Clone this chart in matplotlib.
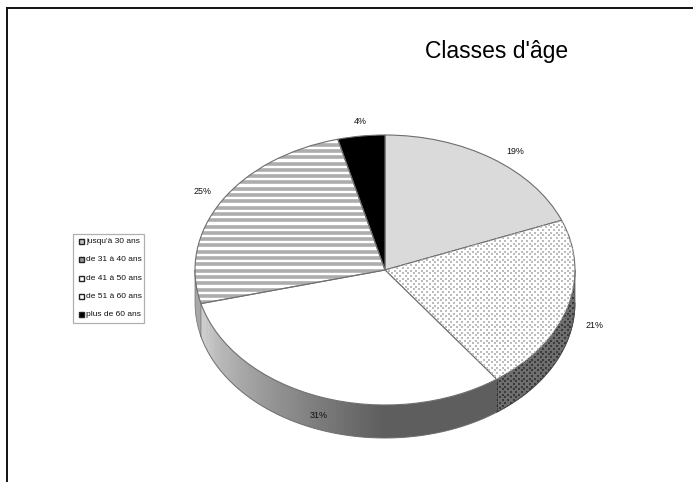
import numpy as np
import matplotlib
matplotlib.use("Agg")
import matplotlib.pyplot as plt
from matplotlib.patches import Polygon, Rectangle

categories = ["jusqu'à 30 ans", "de 31 à 40 ans", "de 41 à 50 ans", "de 51 à 60 ans", "plus de 60 ans"]
values = [19, 21, 31, 25, 4]
labels = ["19%", "21%", "31%", "25%", "4%"]
title = "Classes d'âge"

plt.rcParams['font.family'] = ["Liberation Sans", "DejaVu Sans"]
W, H = 693, 497
fig = plt.figure(figsize=(W / 100, H / 100), dpi=100, facecolor="white")
ax = fig.add_axes([0, 0, 1, 1])

cx, cy, rx, ry, depth = 385, 270, 190, 135, 33
EDGE = '#6e6e6e'
top_colors = ['#dadada', 'white', 'white', 'white', 'black']

wedges, _ = ax.pie(values, startangle=90, counterclock=False, radius=1, center=(0, 0), frame=True)
ax.set_aspect('auto')
ax.set_xlim(-cx / rx, (W - cx) / rx)
ax.set_ylim(-(H - cy) / ry, cy / ry)
ax.axis('off')
for w, fc in zip(wedges, top_colors):
    w.set_facecolor(fc)
    w.set_edgecolor(EDGE)
    w.set_linewidth(0.8)
    w.set_zorder(5)

d = depth / ry
fr = np.cumsum([0] + values) / sum(values)


def angles(i):
    return 2 * np.pi * fr[i], 2 * np.pi * fr[i + 1]


def side(a0, a1, **kw):
    t = np.linspace(a0, a1, 40)
    x, y = np.sin(t), np.cos(t)
    xy = np.r_[np.c_[x, y], np.c_[x[::-1], y[::-1] - d]]
    p = Polygon(xy, closed=True, zorder=3, **kw)
    ax.add_patch(p)
    return p


def px(x, y):
    return (x - cx) / rx, (cy - y) / ry


def dots(clip, color, zorder):
    gx, gy = np.meshgrid(np.arange(0, W, 5.4), np.arange(0, H, 2.7))
    gx = gx + 2.7 * (np.round(gy / 2.7) % 2)
    u, v = px(gx.ravel() + 0.5, gy.ravel() + 0.5)
    sc = ax.scatter(u, v, s=1.1, marker='s', c=color, linewidths=0, zorder=zorder)
    sc.set_clip_path(clip)


# side of the second slice: dark, dotted
a0, a1 = angles(1)
p = side(np.pi / 2, a1, fc='#6e6e6e', ec='#4a4a4a', lw=0.5)
dots(p, '#3a3a3a', 3.5)

# side of the third slice: gradient, light on the left to dark on the right
a0, a1 = angles(2)
n = 90
dark, light = np.array([0x5e] * 3) / 255, np.array([0xd2] * 3) / 255
edges = np.linspace(a0, a1, n + 1)
for k in range(n):
    f = np.clip((edges[k] - np.pi) / (a1 - np.pi), 0, 1)
    side(edges[k], min(edges[k + 1] + 0.006, a1), fc=tuple(dark + (light - dark) * f), ec='none')
t = np.linspace(a0, a1, 80)
ax.plot(np.sin(t), np.cos(t) - d, color=EDGE, lw=0.7, zorder=4)

# visible side of the fourth slice
a0, a1 = angles(3)
side(a0, 3 * np.pi / 2, fc='#a8a8a8', ec=EDGE, lw=0.5)

# dotted seam between the second and third side faces
a = angles(1)[1]
ax.plot([np.sin(a)] * 2, [np.cos(a), np.cos(a) - d], color='#2a2a2a', lw=0.8, ls=(0, (1, 1)), zorder=4)
t = np.linspace(np.pi / 2, a, 40)
ax.plot(np.sin(t), np.cos(t) - d, color='#4a4a4a', lw=0.6, zorder=4)

# top texture of the second slice: fine dots
dots(wedges[1], '#bcbcbc', 5.5)

# top texture of the fourth slice: grey horizontal bands
for yy in np.arange(132, 310, 6.3):
    u, v = px(np.array([0, W]), np.array([yy, yy]))
    ln, = ax.plot(u, v, color='#adadad', lw=2.6, zorder=5.5, solid_capstyle='butt')
    ln.set_clip_path(wedges[3])
wedges[3].set_zorder(5.7)
wedges[3].set_facecolor('none')
a0, a1 = angles(3)
t = np.linspace(a0, a1, 60)
ax.add_patch(Polygon(np.r_[np.c_[np.sin(t), np.cos(t)], [[0, 0]]], closed=True, fc='white', ec='none', zorder=4.5))

# percentage labels
label_pos = [(515, 152), (595, 326), (319, 415), (203, 192), (360, 122)]
for s, (x, y) in zip(labels, label_pos):
    ax.text(*px(x, y), s, fontsize=6.4, ha='center', va='center', color='#111111', zorder=8)

ax.text(*px(497, 52), title, fontsize=16.5, ha='center', va='center', color='black', zorder=8)

# frame: top and left lines only
x0, y0 = px(6.5, 7.5)
x1, y1 = px(W, 481)
ax.plot([x0, x0], [y1, y0], color='#111111', lw=1.4, zorder=9, solid_capstyle='projecting')
ax.plot([x0, x1], [y0, y0], color='#111111', lw=1.4, zorder=9, solid_capstyle='projecting')


def box(xa, ya, xb, yb, **kw):
    (u0, v0), (u1, v1) = px(xa, ya), px(xb, yb)
    ax.add_patch(Rectangle((u0, v1), u1 - u0, v0 - v1, zorder=7, **kw))


box(72.5, 233.5, 144.5, 322.5, fc='white', ec='#b0b0b0', lw=0.9)
leg_fc = ['#c4c4c4', '#9a9a9a', 'white', 'white', 'black']
for i, (c, fc) in enumerate(zip(categories, leg_fc)):
    yy = 241.7 + 18.2 * i
    box(78.5, yy - 2.5, 84, yy + 2.5, fc=fc, ec='#222222', lw=1.0)
    ax.text(*px(85.8, yy), c, fontsize=6.0, ha='left', va='center', color='#111111', zorder=8)

fig.savefig("out.png", dpi=100, facecolor="white")
